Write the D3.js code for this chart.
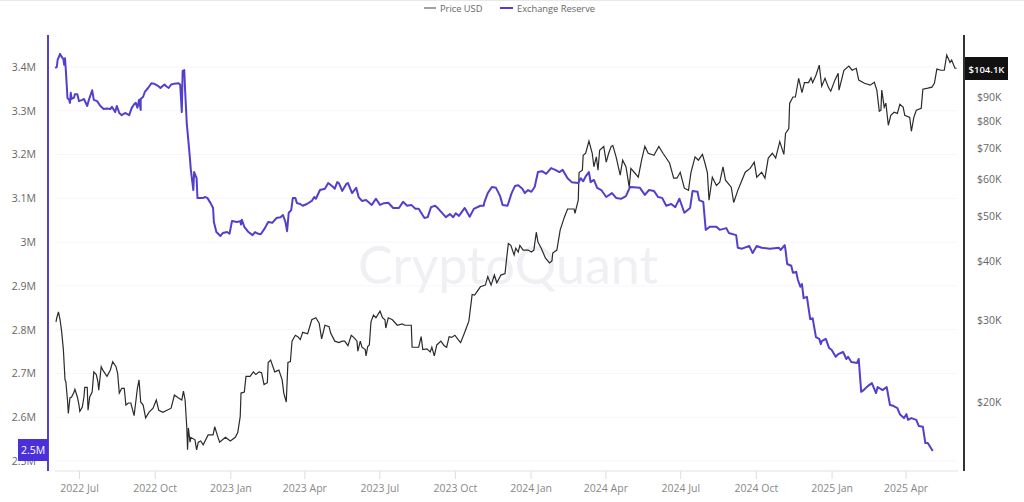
<!DOCTYPE html>
<html>
<head>
<meta charset="utf-8">
<title>Exchange Reserve vs Price USD</title>
<script src="https://cdn.jsdelivr.net/npm/d3@7"></script>
<style>
    html, body { margin: 0; padding: 0; background: #fff; overflow: hidden; }
    text { font-family: "Open Sans", "Noto Sans", sans-serif; }
    .axis path, .axis line { stroke: none; }
    .axis text { fill: #666; font-size: 10.5px; }
</style>
</head>
<body>
<div id="chart"></div>
<script>
// days counted from 2022-06-02
const startDate = new Date(2022, 5, 2);
const totalDays = 1096;

const priceDays = [
    1, 2, 4, 6, 8, 10, 12, 13, 15, 16,
    18, 20, 23, 24, 27, 29, 30, 33, 35, 36,
    39, 40, 42, 45, 47, 50, 52, 53, 56, 58,
    63, 67, 70, 74, 76, 78, 81, 84, 86, 89,
    92, 96, 100, 102, 104, 107, 110, 114, 119, 123,
    126, 131, 136, 141, 145, 150, 154, 156, 158, 160,
    161, 162, 164, 165, 170, 172, 174, 177, 180, 186,
    192, 194, 198, 200, 207, 213, 219, 222, 225, 226,
    230, 232, 237, 241, 244, 248, 251, 254, 258, 259,
    262, 267, 272, 276, 278, 281, 283, 286, 288, 292,
    295, 298, 301, 307, 312, 317, 321, 324, 328, 333,
    335, 340, 345, 349, 352, 356, 360, 363, 367, 368,
    371, 373, 377, 378, 380, 382, 384, 387, 390, 395,
    398, 401, 402, 405, 410, 416, 422, 425, 433, 434,
    439, 442, 445, 447, 452, 456, 458, 461, 464, 469,
    473, 476, 479, 482, 486, 490, 493, 498, 503, 507,
    510, 517, 523, 526, 530, 534, 537, 542, 547, 549,
    551, 554, 558, 560, 563, 565, 569, 575, 579, 582,
    585, 587, 591, 596, 601, 604, 605, 610, 614, 619,
    623, 631, 632, 636, 637, 641, 642, 645, 649, 653,
    655, 658, 660, 662, 667, 670, 673, 676, 678, 682,
    687, 690, 694, 698, 700, 704, 709, 713, 717, 721,
    728, 734, 739, 747, 752, 756, 760, 765, 770, 773,
    778, 782, 787, 790, 793, 795, 799, 804, 808, 812,
    815, 822, 825, 830, 835, 839, 845, 850, 853, 859,
    863, 867, 872, 876, 881, 886, 888, 892, 893, 897,
    900, 904, 908, 911, 916, 919, 921, 925, 929, 932,
    936, 940, 943, 948, 952, 953, 959, 965, 969, 974,
    977, 984, 991, 996, 999, 1002, 1004, 1005, 1008, 1010,
    1013, 1016, 1020, 1024, 1027, 1031, 1033, 1039, 1041, 1044,
    1047, 1053, 1055, 1061, 1066, 1069, 1072, 1077, 1081, 1084,
    1088, 1090, 1094, 1096
];

// thousand USD
const priceValues = [
    29.7, 30.3, 31.2, 30.0, 28.2, 25.9, 22.3, 22.1, 20.2, 18.9,
    20.4, 20.5, 21.0, 21.3, 20.5, 19.7, 19.1, 19.5, 20.5, 21.5,
    21.5, 19.2, 20.5, 21.0, 23.2, 22.9, 22.1, 21.2, 23.8, 23.4,
    22.7, 23.4, 24.4, 23.8, 23.0, 20.9, 21.4, 21.4, 19.7, 19.9,
    19.9, 18.7, 21.4, 22.3, 20.0, 19.7, 18.5, 19.0, 19.4, 20.2,
    19.2, 19.0, 19.2, 19.4, 20.7, 20.4, 20.2, 21.1, 20.2, 17.7,
    15.8, 17.6, 16.4, 16.8, 16.6, 15.8, 16.4, 16.5, 16.2, 17.0,
    17.0, 17.7, 16.8, 16.4, 16.8, 16.5, 16.8, 17.2, 18.6, 20.9,
    21.0, 22.7, 22.7, 23.2, 22.9, 23.2, 23.1, 21.8, 22.0, 24.3,
    24.6, 23.2, 23.4, 22.3, 20.9, 20.0, 24.3, 24.4, 27.0, 27.8,
    27.6, 27.2, 28.2, 28.0, 30.0, 30.3, 29.5, 27.3, 29.2, 29.0,
    28.1, 27.0, 26.8, 27.0, 27.0, 26.4, 27.8, 27.5, 27.0, 25.7,
    27.0, 26.2, 25.9, 25.1, 26.3, 26.5, 29.7, 30.7, 30.3, 31.3,
    30.3, 30.0, 28.8, 30.3, 30.0, 29.2, 29.4, 29.2, 29.2, 26.2,
    26.2, 26.2, 27.6, 25.9, 26.0, 25.6, 26.2, 25.1, 26.5, 27.0,
    26.4, 26.2, 27.6, 27.5, 27.8, 27.2, 26.8, 28.2, 29.8, 34.0,
    33.9, 35.3, 35.6, 37.1, 35.6, 37.4, 36.0, 37.4, 37.7, 40.7,
    43.7, 43.3, 41.3, 42.7, 41.9, 43.3, 42.3, 42.3, 41.9, 42.3,
    46.2, 44.0, 42.7, 40.7, 39.7, 40.1, 41.7, 42.3, 46.7, 49.7,
    51.8, 51.8, 50.7, 54.1, 62.0, 62.7, 67.5, 68.2, 72.4, 68.2,
    63.8, 67.0, 62.7, 69.2, 70.5, 65.3, 68.2, 70.5, 70.9, 67.0,
    61.2, 65.9, 63.8, 57.7, 63.3, 62.1, 60.6, 65.9, 70.6, 68.2,
    67.5, 70.5, 68.2, 65.0, 60.3, 60.3, 62.1, 57.4, 56.8, 62.0,
    67.0, 65.9, 67.8, 65.0, 62.0, 54.1, 60.6, 58.2, 59.1, 63.8,
    59.7, 57.7, 53.5, 56.8, 59.7, 62.1, 63.3, 65.3, 60.6, 62.1,
    60.3, 66.6, 68.2, 66.6, 72.2, 67.8, 75.2, 77.0, 87.2, 90.0,
    90.0, 98.7, 92.0, 96.6, 96.6, 98.9, 96.6, 100.2, 105.3, 94.9,
    98.7, 94.5, 92.6, 97.8, 101.2, 93.1, 102.7, 104.8, 102.7, 103.7,
    97.8, 96.3, 95.4, 96.8, 93.1, 83.9, 84.3, 93.1, 85.6, 87.3,
    78.3, 82.2, 83.5, 83.0, 86.8, 85.6, 82.2, 81.4, 76.0, 81.4,
    84.3, 85.1, 93.5, 94.0, 94.5, 96.3, 103.3, 102.7, 102.7, 110.7,
    106.7, 108.0, 103.7, 103.7
];

const reserveDays = [
    0, 2, 3, 6, 8, 10, 11, 12, 13, 15,
    17, 18, 19, 20, 23, 24, 27, 29, 33, 35,
    39, 41, 45, 47, 51, 55, 59, 63, 67, 69,
    73, 75, 78, 81, 85, 90, 93, 96, 98, 100,
    102, 104, 104, 107, 109, 113, 117, 120, 125, 128,
    131, 133, 135, 138, 141, 145, 150, 152, 154, 155,
    157, 158, 160, 163, 165, 168, 169, 172, 173, 180,
    182, 185, 189, 192, 193, 196, 201, 204, 209, 212,
    215, 221, 225, 226, 227, 230, 235, 240, 243, 247,
    250, 255, 259, 264, 269, 274, 277, 280, 282, 284,
    287, 289, 292, 294, 298, 301, 306, 312, 315, 317,
    322, 328, 332, 338, 340, 343, 345, 349, 354, 356,
    361, 366, 369, 373, 378, 385, 390, 395, 400, 405,
    411, 418, 423, 428, 433, 438, 442, 449, 453, 457,
    462, 466, 475, 480, 484, 487, 491, 498, 504, 509,
    517, 521, 522, 526, 531, 536, 541, 544, 550, 555,
    559, 563, 568, 571, 575, 579, 583, 587, 592, 597,
    603, 608, 613, 617, 623, 628, 636, 639, 642, 645,
    649, 651, 655, 659, 664, 670, 677, 682, 688, 694,
    699, 711, 717, 722, 728, 733, 738, 743, 749, 754,
    759, 765, 772, 775, 781, 783, 788, 791, 796, 804,
    808, 816, 819, 828, 830, 835, 844, 848, 853, 859,
    869, 880, 882, 887, 888, 890, 895, 897, 901, 903,
    906, 908, 910, 914, 918, 921, 925, 929, 931, 932,
    937, 941, 944, 949, 952, 958, 962, 964, 968, 975,
    977, 980, 983, 988, 993, 998, 1000, 1006, 1011, 1015,
    1019, 1024, 1027, 1032, 1035, 1037, 1041, 1047, 1050, 1055,
    1058, 1061, 1064, 1067
];

// million BTC
const reserveValues = [
    3.398, 3.400, 3.416, 3.430, 3.423, 3.418, 3.405, 3.420, 3.393, 3.329,
    3.325, 3.318, 3.341, 3.327, 3.330, 3.338, 3.338, 3.322, 3.325, 3.327,
    3.311, 3.325, 3.347, 3.325, 3.322, 3.311, 3.304, 3.305, 3.304, 3.309,
    3.297, 3.311, 3.295, 3.290, 3.295, 3.290, 3.306, 3.315, 3.318, 3.307,
    3.325, 3.302, 3.327, 3.332, 3.343, 3.352, 3.363, 3.362, 3.357, 3.352,
    3.357, 3.360, 3.356, 3.352, 3.360, 3.362, 3.363, 3.360, 3.297, 3.391,
    3.393, 3.347, 3.272, 3.210, 3.165, 3.119, 3.160, 3.146, 3.101, 3.101,
    3.103, 3.101, 3.089, 3.078, 3.046, 3.023, 3.014, 3.021, 3.023, 3.019,
    3.048, 3.046, 3.048, 3.040, 3.051, 3.035, 3.023, 3.016, 3.023, 3.019,
    3.018, 3.032, 3.046, 3.044, 3.055, 3.057, 3.062, 3.046, 3.025, 3.067,
    3.073, 3.101, 3.101, 3.089, 3.087, 3.083, 3.087, 3.094, 3.103, 3.099,
    3.119, 3.122, 3.135, 3.126, 3.122, 3.137, 3.135, 3.117, 3.133, 3.135,
    3.112, 3.124, 3.103, 3.094, 3.096, 3.085, 3.099, 3.085, 3.089, 3.090,
    3.078, 3.078, 3.092, 3.083, 3.085, 3.076, 3.076, 3.055, 3.057, 3.080,
    3.083, 3.076, 3.057, 3.064, 3.057, 3.066, 3.060, 3.078, 3.058, 3.076,
    3.083, 3.083, 3.092, 3.112, 3.126, 3.124, 3.105, 3.085, 3.083, 3.112,
    3.128, 3.130, 3.122, 3.112, 3.119, 3.115, 3.126, 3.160, 3.162, 3.156,
    3.169, 3.165, 3.160, 3.165, 3.146, 3.137, 3.135, 3.146, 3.139, 3.150,
    3.160, 3.137, 3.142, 3.124, 3.119, 3.103, 3.112, 3.101, 3.099, 3.105,
    3.126, 3.124, 3.108, 3.119, 3.117, 3.103, 3.101, 3.083, 3.087, 3.080,
    3.099, 3.067, 3.078, 3.117, 3.115, 3.096, 3.092, 3.028, 3.035, 3.035,
    3.028, 3.032, 3.021, 3.016, 2.987, 2.985, 2.991, 2.975, 2.991, 2.987,
    2.985, 2.987, 2.982, 2.993, 2.982, 2.950, 2.946, 2.930, 2.932, 2.914,
    2.898, 2.904, 2.872, 2.875, 2.824, 2.826, 2.783, 2.779, 2.767, 2.774,
    2.779, 2.758, 2.754, 2.738, 2.744, 2.749, 2.733, 2.738, 2.726, 2.724,
    2.733, 2.658, 2.662, 2.671, 2.678, 2.655, 2.669, 2.662, 2.669, 2.628,
    2.626, 2.621, 2.607, 2.598, 2.607, 2.594, 2.598, 2.594, 2.580, 2.578,
    2.541, 2.541, 2.532, 2.523
];

const xTickDates = [
    "2022-07-01", "2022-10-01", "2023-01-01", "2023-04-01", "2023-07-01", "2023-10-01",
    "2024-01-01", "2024-04-01", "2024-07-01", "2024-10-01", "2025-01-01", "2025-04-01"
];
const reserveTicks = [2.5, 2.6, 2.7, 2.8, 2.9, 3, 3.1, 3.2, 3.3, 3.4];
const priceTicks = [20, 30, 40, 50, 60, 70, 80, 90];
const lastPriceLabel = "$104.1K";
const lastReserveLabel = "2.5M";

const width = 1024;
const height = 502;
const plot = { left: 55, right: 957, top: 35, bottom: 471 };
const purple = "#5240cc";
const dark = "#2b2b2b";

const svg = d3.select("#chart").append("svg")
    .attr("width", width)
    .attr("height", height)
    .style("display", "block");

const parseDay = d3.timeParse("%Y-%m-%d");

// set scales
const x = d3.scaleTime()
    .domain([startDate, d3.timeDay.offset(startDate, totalDays)])
    .range([55.15, 956.6]);

const yReserve = d3.scaleLinear()
    .domain([2.5, 3.4])
    .range([461, 67]);

const yPrice = d3.scaleLog()
    .domain([20, 90])
    .range([402, 97]);

// top edge of the page
svg.append("line")
    .attr("x1", 0).attr("x2", width)
    .attr("y1", 0.5).attr("y2", 0.5)
    .style("stroke", "#e8e8e8");

// grid lines
svg.append("g")
    .selectAll("line")
    .data(reserveTicks)
    .enter().append("line")
    .attr("x1", plot.left)
    .attr("x2", plot.right)
    .attr("y1", d => yReserve(d))
    .attr("y2", d => yReserve(d))
    .style("stroke", "#f6f6f6");

// watermark
svg.append("text")
    .attr("x", 508)
    .attr("y", 284)
    .attr("text-anchor", "middle")
    .style("font-family", "Lato, sans-serif")
    .style("font-size", "52px")
    .style("fill", "#f0f0f4")
    .text("CryptoQuant");

// x axis
const xAxis = d3.axisBottom(x)
    .tickValues(xTickDates.map(parseDay))
    .tickFormat(d3.timeFormat("%Y %b"))
    .tickSize(8)
    .tickPadding(6);

const xG = svg.append("g")
    .attr("class", "axis")
    .attr("transform", `translate(0, ${plot.bottom})`)
    .call(xAxis);
xG.selectAll("line").style("stroke", "#ddd");
xG.selectAll("text").style("fill", "#888");

svg.append("line")
    .attr("x1", plot.left).attr("x2", plot.right + 1)
    .attr("y1", plot.bottom).attr("y2", plot.bottom)
    .style("stroke", "#e2e2e2");

// left axis
const reserveAxis = d3.axisLeft(yReserve)
    .tickValues(reserveTicks)
    .tickFormat(d => d + "M")
    .tickSize(0)
    .tickPadding(12);

svg.append("g")
    .attr("class", "axis")
    .attr("transform", "translate(48, 0)")
    .call(reserveAxis);

svg.append("line")
    .attr("x1", 48).attr("x2", 48)
    .attr("y1", plot.top).attr("y2", plot.bottom)
    .style("stroke", purple)
    .style("stroke-width", 2);

// right axis
const priceAxis = d3.axisRight(yPrice)
    .tickValues(priceTicks)
    .tickFormat(d => "$" + d + "K")
    .tickSize(0)
    .tickPadding(13);

svg.append("g")
    .attr("class", "axis")
    .attr("transform", "translate(964, 0)")
    .call(priceAxis);

svg.append("line")
    .attr("x1", 964).attr("x2", 964)
    .attr("y1", plot.top).attr("y2", plot.bottom)
    .style("stroke", "#333")
    .style("stroke-width", 2);

// price line
const priceLine = d3.line()
    .x(d => x(d3.timeDay.offset(startDate, d)))
    .y((d, i) => yPrice(priceValues[i]));

svg.append("path")
    .datum(priceDays)
    .attr("d", priceLine)
    .style("fill", "none")
    .style("stroke", dark)
    .style("stroke-width", 1.2);

// reserve line
const reserveLine = d3.line()
    .x(d => x(d3.timeDay.offset(startDate, d)))
    .y((d, i) => yReserve(reserveValues[i]));

svg.append("path")
    .datum(reserveDays)
    .attr("d", reserveLine)
    .style("fill", "none")
    .style("stroke", purple)
    .style("stroke-width", 2)
    .style("stroke-linejoin", "round");

// last value tags
svg.append("rect")
    .attr("x", 18).attr("y", 439)
    .attr("width", 30).attr("height", 22)
    .style("fill", "#4a2fdb");

svg.append("text")
    .attr("x", 33).attr("y", 454)
    .attr("text-anchor", "middle")
    .style("font-size", "10.5px")
    .style("fill", "#fff")
    .text(lastReserveLabel);

svg.append("rect")
    .attr("x", 965).attr("y", 57)
    .attr("width", 43).attr("height", 23)
    .style("fill", "#111");

svg.append("text")
    .attr("x", 986.5).attr("y", 73)
    .attr("text-anchor", "middle")
    .style("font-size", "9.5px")
    .style("font-weight", 600)
    .style("fill", "#fff")
    .text(lastPriceLabel);

// legend
const legendItems = [
    { label: "Price USD", color: "#444", w: 1, x1: 424, x2: 436, tx: 440 },
    { label: "Exchange Reserve", color: purple, w: 2, x1: 500, x2: 513, tx: 517 }
];

const legend = svg.append("g");
legendItems.forEach(d => {
    legend.append("line")
        .attr("x1", d.x1).attr("x2", d.x2)
        .attr("y1", 8).attr("y2", 8)
        .style("stroke", d.color)
        .style("stroke-width", d.w);
    legend.append("text")
        .attr("x", d.tx).attr("y", 12)
        .style("font-size", "9.3px")
        .style("fill", "#666")
        .text(d.label);
});
</script>
</body>
</html>
